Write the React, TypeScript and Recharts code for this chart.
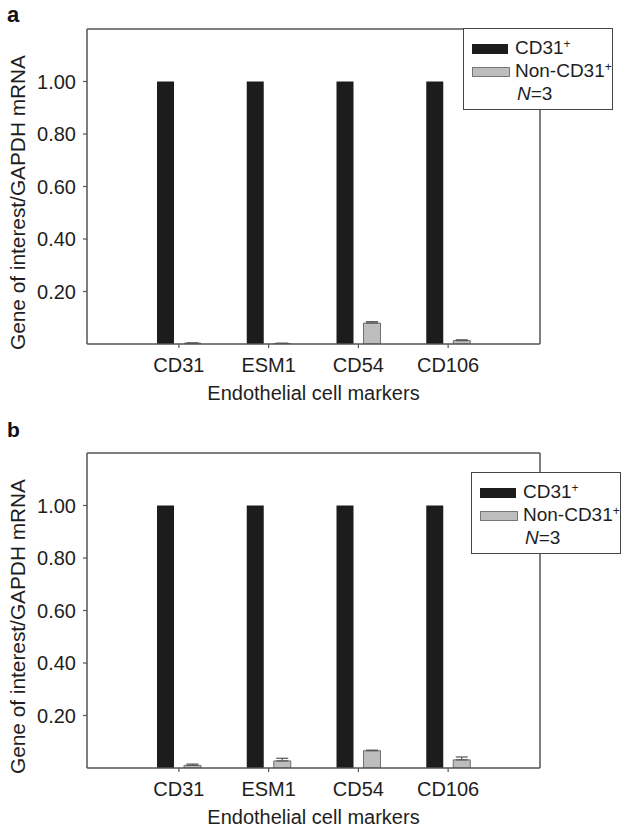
import React from 'react';
import { BarChart, Bar, XAxis, YAxis, ErrorBar, Legend } from 'recharts';

const categories = ['CD31', 'ESM1', 'CD54', 'CD106'];
const yTicks = [0.2, 0.4, 0.6, 0.8, 1.0];

const aCd31 = [1.0, 1.0, 1.0, 1.0];
const aNon = [0.003, 0.002, 0.08, 0.013];
const aNonErr = [0.001, 0.001, 0.005, 0.003];

const bCd31 = [1.0, 1.0, 1.0, 1.0];
const bNon = [0.01, 0.027, 0.066, 0.031];
const bNonErr = [0.005, 0.01, 0.002, 0.011];

const FONT = '"Liberation Sans", Arial, Helvetica, sans-serif';
const TXT = '#1e1e1e';
const AXIS = '#555';

function build(pos: number[], non: number[], err: number[]) {
  return categories.map((name, i) => ({
    name,
    pos: pos[i],
    non: non[i],
    err: [0, err[i]],
  }));
}

const YLabel = (props: any) => {
  const vb = props.viewBox || { x: 0, y: 29, width: 87, height: 315 };
  const x = 18;
  const y = vb.y + vb.height / 2 + 16;
  return (
    <text
      x={x}
      y={y}
      transform={`rotate(-90 ${x} ${y})`}
      textAnchor="middle"
      dominantBaseline="central"
      fontSize={20}
      fill={TXT}
      fontFamily={FONT}
      textLength={295}
      lengthAdjust="spacingAndGlyphs"
    >
      Gene of interest/GAPDH mRNA
    </text>
  );
};

const supStyle: React.CSSProperties = { fontSize: 12, verticalAlign: 'top', position: 'relative', top: -4 };

const LegendBox = () => (
  <div
    style={{
      width: 150,
      height: 82,
      border: '1.5px solid #444',
      background: '#fff',
      fontFamily: FONT,
      fontSize: 19,
      color: TXT,
      boxSizing: 'border-box',
      position: 'relative',
    }}
  >
    <div style={{ position: 'absolute', left: 8, top: 15, width: 36, height: 10, background: '#1c1c1c' }} />
    <div style={{ position: 'absolute', left: 51, top: 8, lineHeight: '22px', whiteSpace: 'nowrap' }}>
      CD31<sup style={supStyle}>+</sup>
    </div>
    <div
      style={{
        position: 'absolute',
        left: 8,
        top: 38,
        width: 36,
        height: 8,
        background: '#bdbdbd',
        border: '1px solid #777',
      }}
    />
    <div style={{ position: 'absolute', left: 51, top: 31, lineHeight: '22px', whiteSpace: 'nowrap' }}>
      Non-CD31<sup style={supStyle}>+</sup>
    </div>
    <div style={{ position: 'absolute', left: 53, top: 54, lineHeight: '22px', whiteSpace: 'nowrap' }}>
      <i>N</i>=3
    </div>
  </div>
);

function Panel({ data, legendLeft, legendTop }: { data: any[]; legendLeft: number; legendTop: number }) {
  return (
    <BarChart
      width={629}
      height={424}
      data={data}
      margin={{ top: 28, right: 88, left: 0, bottom: 0 }}
      barSize={17}
      barGap={10}
    >
      <XAxis
        dataKey="name"
        height={80}
        padding={{ left: 47, right: 47 }}
        tickSize={4}
        tickMargin={10}
        axisLine={{ stroke: AXIS, strokeWidth: 1.5 }}
        tickLine={{ stroke: AXIS, strokeWidth: 1.2 }}
        tick={{ fontSize: 20, fill: TXT, fontFamily: FONT }}
        label={{
          value: 'Endothelial cell markers',
          position: 'insideBottom',
          offset: 24,
          fontSize: 20,
          fill: TXT,
          fontFamily: FONT,
        }}
      />
      <XAxis
        xAxisId="top"
        orientation="top"
        dataKey="name"
        height={1}
        tick={false}
        tickLine={false}
        axisLine={{ stroke: AXIS, strokeWidth: 1.5 }}
      />
      <YAxis
        width={87}
        domain={[0, 1.2]}
        ticks={yTicks}
        tickFormatter={(v: number) => v.toFixed(2)}
        tickSize={4}
        tickMargin={7}
        allowDataOverflow
        axisLine={{ stroke: AXIS, strokeWidth: 1.5 }}
        tickLine={{ stroke: AXIS, strokeWidth: 1.2 }}
        tick={{ fontSize: 20, fill: TXT, fontFamily: FONT }}
        label={{ content: YLabel }}
      />
      <YAxis
        yAxisId="right"
        orientation="right"
        width={1}
        domain={[0, 1.2]}
        tick={false}
        tickLine={false}
        axisLine={{ stroke: AXIS, strokeWidth: 1.5 }}
      />
      <Legend
        layout="vertical"
        align="center"
        verticalAlign="middle"
        content={() => <LegendBox />}
        wrapperStyle={{ left: legendLeft, top: legendTop, width: 'auto' }}
      />
      <Bar dataKey="pos" name="CD31+" fill="#1c1c1c" isAnimationActive={false} />
      <Bar dataKey="non" name="Non-CD31+" fill="#bdbdbd" stroke="#6f6f6f" strokeWidth={1} isAnimationActive={false}>
        <ErrorBar dataKey="err" width={6} stroke="#555" strokeWidth={1.2} isAnimationActive={false} />
      </Bar>
    </BarChart>
  );
}

export default function App() {
  const dataA = build(aCd31, aNon, aNonErr);
  const dataB = build(bCd31, bNon, bNonErr);
  return (
    <div
      style={{
        position: 'absolute',
        left: 0,
        top: 0,
        width: 629,
        height: 833,
        background: '#fff',
        fontFamily: FONT,
      }}
    >
      <div style={{ position: 'absolute', left: 0, top: 0 }}>
        <Panel data={dataA} legendLeft={463} legendTop={28} />
      </div>
      <div style={{ position: 'absolute', left: 0, top: 424 }}>
        <Panel data={dataB} legendLeft={471} legendTop={48} />
      </div>
      <svg width={629} height={833} style={{ position: 'absolute', left: 0, top: 0, pointerEvents: 'none' }}>
        <text x={7} y={22} fontSize={22} fontWeight="bold" fill="#111" fontFamily={FONT}>
          a
        </text>
        <text x={7} y={437} fontSize={21} fontWeight="bold" fill="#111" fontFamily={FONT}>
          b
        </text>
      </svg>
    </div>
  );
}
